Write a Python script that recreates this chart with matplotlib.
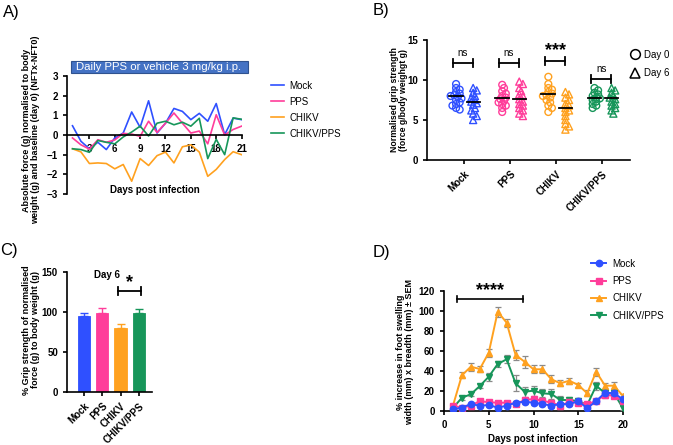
import numpy as np
import matplotlib
matplotlib.use("Agg")
import matplotlib.pyplot as plt
from matplotlib.lines import Line2D
from matplotlib.patches import Rectangle

plt.rcParams['font.family'] = ['Liberation Sans', 'DejaVu Sans']
plt.rcParams['axes.linewidth'] = 1.2
plt.rcParams['xtick.major.width'] = 1.2
plt.rcParams['ytick.major.width'] = 1.2
plt.rcParams['xtick.major.size'] = 3
plt.rcParams['ytick.major.size'] = 3

W, H = 673, 445

groups = ['Mock', 'PPS', 'CHIKV', 'CHIKV/PPS']
colors = ['#2f50ff', '#ff3d9a', '#ffa11f', '#17965a']

# ---- panel A: grip strength change over time
days_a = np.arange(1, 22)
a_mock = [0.47, -0.32, -0.7, -0.37, -0.74, -0.15, 0.1, 1.17, 0.39, 1.74, 0.1,
          0.6, 1.35, 1.2, 0.78, 1.1, 0.7, 1.6, 0.02, 0.86, 0.78]
a_pps = [-0.15, -0.5, -0.72, -0.24, -0.37, -0.25, 0.08, 0.05, -0.07, 0.7, 0.13,
         0.6, 1.12, 0.6, 0.1, 0.2, -0.45, 1.03, 0.0, 0.28, 0.45]
a_chikv = [-0.7, -0.86, -1.45, -1.42, -1.45, -1.72, -1.5, -2.35, -1.2, -1.55, -1.05,
           -0.87, -1.42, -0.6, -0.5, -0.87, -2.1, -1.75, -1.25, -0.85, -1.0]
a_chikv_pps = [-0.7, -0.74, -0.88, -0.28, -0.37, -0.45, -0.1, 0.15, 0.45, -0.05, 0.6,
               0.7, 0.52, 0.65, 0.45, 0.85, -1.2, -0.22, -1.0, 0.87, 0.8]

# ---- panel B: individual grip strength, day 0 vs day 6
b_day0 = [
    [9.5, 9.0, 8.8, 8.5, 8.3, 8.1, 8.0, 7.9, 7.7, 7.5, 7.2, 7.0, 6.8, 6.5, 6.3],
    [9.4, 9.0, 8.6, 8.3, 8.0, 7.8, 7.6, 7.4, 7.2, 7.0, 6.8, 6.5, 6.0],
    [10.4, 9.5, 9.0, 8.8, 8.5, 8.3, 8.1, 8.0, 7.8, 7.5, 7.2, 6.8, 6.5, 6.0],
    [9.0, 8.7, 8.4, 8.2, 8.0, 7.8, 7.7, 7.5, 7.3, 7.0, 6.8, 6.5],
]
b_day6 = [
    [9.0, 8.7, 8.4, 8.0, 7.8, 7.5, 7.3, 7.1, 6.9, 6.5, 6.2, 5.8, 5.5, 5.0],
    [9.8, 9.5, 9.0, 8.6, 8.2, 8.0, 7.6, 7.3, 7.0, 6.8, 6.5, 6.2, 5.8, 5.5],
    [8.5, 8.2, 7.8, 7.5, 7.0, 6.8, 6.5, 6.2, 6.0, 5.5, 5.0, 4.5, 4.2, 3.8],
    [9.0, 8.7, 8.4, 8.0, 7.8, 7.6, 7.3, 7.0, 6.8, 6.5, 6.2, 5.8],
]
b_means0 = [8.0, 7.7, 8.2, 7.7]
b_means6 = [7.3, 7.6, 6.5, 7.7]
b_sig = ['ns', 'ns', '***', 'ns']
b_sig_y = [12.1, 12.1, 12.4, 10.1]

# ---- panel C: day 6 % grip strength
c_mean = [95.5, 99.2, 80.4, 99.2]
c_sem = [3.0, 5.2, 5.0, 4.0]

# ---- panel D: foot swelling
days_d = np.arange(1, 21)
d_mock = [1.7, 3.3, 7.0, 5.3, 6.0, 3.3, 5.3, 8.3, 9.3, 8.3, 7.0, 5.3, 7.0, 6.7,
          10.0, 2.7, 10.0, 18.3, 17.7, 11.7]
d_mock_sem = [1, 1, 1.5, 1.5, 1.5, 1.5, 1.5, 2, 2, 2, 2, 2, 2, 2, 2, 1.5, 2, 2, 2, 2]
d_pps = [5.3, 3.3, 5.3, 10.0, 8.7, 8.3, 8.3, 6.7, 11.0, 12.0, 10.3, 8.3, 5.3, 9.3,
         8.3, 6.7, 10.0, 16.0, 15.3, 10.0]
d_pps_sem = [1.5, 1.5, 1.5, 2, 2, 2, 2, 2, 2.5, 2.5, 2.5, 2.5, 3, 2.5, 2.5, 2, 2, 2.5, 2.5, 2.5]
d_chikv = [5.3, 35.7, 44.3, 42.0, 58.3, 99.3, 88.3, 56.0, 49.3, 41.7, 41.7, 31.7,
           27.7, 30.3, 26.0, 17.7, 39.3, 25.3, 25.3, 15.0]
d_chikv_sem = [1.5, 3, 4, 3, 4, 5, 4, 5, 6, 4, 4, 4, 3, 3, 2, 3, 4, 3, 4, 2]
d_cp = [3.0, 13.3, 16.7, 25.0, 34.3, 47.0, 51.7, 27.7, 19.3, 20.3, 17.7, 17.0,
        11.0, 11.0, 10.0, 6.0, 25.3, 17.7, 17.7, 2.7]
d_cp_sem = [1, 2, 2, 2, 4, 3, 4, 8, 5, 5, 4, 5, 4, 3, 3, 2, 4, 3, 3, 2]


def fax(x0, y0, x1, y1):
    # axes rectangle from pixel box
    return [x0 / W, 1 - y1 / H, (x1 - x0) / W, (y1 - y0) / H]


def ftext(x, y, s, **kw):
    fig.text(x / W, 1 - y / H, s, **kw)


def swarm(vals, center, xs=46.0, ys=8.0, diam=3.6):
    # compact beeswarm offsets (in data units)
    placed = []
    out = []
    for v in vals:
        k = 0
        while True:
            step = ((k + 1) // 2) * (1 if k % 2 else -1) * 0.5
            dx = step * diam
            ok = all((dx - px) ** 2 + ((v - py) * ys) ** 2 >= diam ** 2
                     for px, py in placed)
            if ok or k > 6:
                break
            k += 1
        placed.append((dx, v))
        out.append(center + dx / xs)
    return out


fig = plt.figure(figsize=(W / 100, H / 100), dpi=100)
tick_kw = dict(labelsize=7)
bold = dict(fontweight='bold')

# ================= A
ax = fig.add_axes(fax(67, 76, 242, 194))
for vals, c, lab in zip([a_mock, a_pps, a_chikv, a_chikv_pps], colors, groups):
    ax.plot(days_a, vals, color=c, lw=1.2, label=lab)
ax.set_xlim(0.35, 21.05)
ax.set_ylim(-3, 3)
ax.spines[['top', 'right']].set_visible(False)
ax.spines['bottom'].set_position(('data', 0))
ax.set_xticks(range(3, 22, 3))
ax.set_yticks(range(-3, 4))
ax.tick_params(**tick_kw)
for t in ax.get_xticklabels() + ax.get_yticklabels():
    t.set_fontweight('bold')
ax.text(0.5, 0.03, 'Days post infection', transform=ax.transAxes, ha='center',
        va='center', fontsize=7, **bold)
fig.legend(*ax.get_legend_handles_labels(), loc='upper left',
           bbox_to_anchor=(262 / W, 1 - 72 / H), frameon=False, fontsize=7,
           handlelength=1.4, handletextpad=0.5, labelspacing=0.62)
fig.patches.append(Rectangle((71 / W, 1 - 73 / H), 177 / W, 12 / H,
                             transform=fig.transFigure, facecolor='#4472c4',
                             edgecolor='#2f528f', lw=0.8))
ftext(159, 67, 'Daily PPS or vehicle 3 mg/kg i.p.', color='white', fontsize=8.2,
      ha='center', va='center')
ftext(31, 130, 'Absolute force (g) normalised to body\nweight (g) and baseline (day 0) (NFTx-NFT0)',
      rotation=90, ha='center', va='center', fontsize=6.5, linespacing=1.1, **bold)
ftext(3, 13, 'A)', fontsize=12, va='center')

# ================= B
ax = fig.add_axes(fax(427, 40, 630, 160))
pos = np.arange(len(groups))
for i, c in enumerate(colors):
    x0 = swarm(b_day0[i], i - 0.17)
    x6 = swarm(b_day6[i], i + 0.20)
    ax.scatter(x0, b_day0[i], s=24, marker='o', facecolors='none', edgecolors=c, lw=1.0, zorder=3)
    ax.scatter(x6, b_day6[i], s=26, marker='^', facecolors='none', edgecolors=c, lw=1.0, zorder=3)
    ax.plot([i - 0.32, i - 0.03], [b_means0[i]] * 2, color='k', lw=1.3, zorder=4)
    ax.plot([i + 0.06, i + 0.35], [b_means6[i]] * 2, color='k', lw=1.3, zorder=4)
    y = b_sig_y[i]
    ax.plot([i - 0.24, i + 0.19], [y, y], color='k', lw=1.3)
    ax.plot([i - 0.24] * 2, [y - 0.5, y + 0.5], color='k', lw=1.3)
    ax.plot([i + 0.19] * 2, [y - 0.5, y + 0.5], color='k', lw=1.3)
    if b_sig[i] == 'ns':
        ax.text(i - 0.025, y + 0.7, 'ns', ha='center', va='bottom', fontsize=7)
    else:
        ax.text(i - 0.025, y + 0.2, b_sig[i], ha='center', va='bottom', fontsize=13, **bold)
ax.set_xlim(-0.8, 3.6)
ax.set_ylim(0, 15)
ax.set_yticks([0, 5, 10, 15])
ax.set_xticks(pos)
ax.set_xticklabels(groups, rotation=45, ha='right', rotation_mode='anchor', **bold)
ax.spines[['top', 'right']].set_visible(False)
ax.tick_params(**tick_kw)
for t in ax.get_yticklabels():
    t.set_fontweight('bold')
hb = [Line2D([], [], marker='o', ls='none', mfc='none', mec='k', ms=7, mew=1.1),
      Line2D([], [], marker='^', ls='none', mfc='none', mec='k', ms=7.5, mew=1.1)]
fig.legend(hb, ['Day 0', 'Day 6'], loc='upper left', bbox_to_anchor=(622 / W, 1 - 41 / H),
           frameon=False, fontsize=7, handlelength=0.8, handletextpad=0.55, labelspacing=0.9)
ftext(399, 100, 'Normalised grip strength\n(force g/body weighgt g)', rotation=90,
      ha='center', va='center', fontsize=6.3, linespacing=1.1, **bold)
ftext(373, 11, 'B)', fontsize=12, va='center')

# ================= C
ax = fig.add_axes(fax(67, 272, 152, 392))
ax.bar(pos, c_mean, width=0.68, color=colors, edgecolor=colors, lw=0.6)
for i, c in enumerate(colors):
    ax.errorbar(pos[i], c_mean[i], yerr=[[0], [c_sem[i]]], color=c, capsize=3,
                capthick=1.0, elinewidth=1.0)
ax.plot([2 - 0.12, 3 + 0.12], [126, 126], color='k', lw=1.3)
ax.plot([2 - 0.12] * 2, [121, 131], color='k', lw=1.3)
ax.plot([3 + 0.12] * 2, [121, 131], color='k', lw=1.3)
ax.text(2.5, 126, '*', ha='center', va='bottom', fontsize=13, **bold)
ax.text(1.25, 146, 'Day 6', ha='center', va='center', fontsize=7, **bold)
ax.set_xlim(-0.93, 3.72)
ax.set_ylim(0, 150)
ax.set_yticks([0, 50, 100, 150])
ax.set_xticks(pos)
ax.set_xticklabels(groups, rotation=45, ha='right', rotation_mode='anchor', **bold)
ax.spines[['top', 'right']].set_visible(False)
ax.tick_params(**tick_kw)
for t in ax.get_yticklabels():
    t.set_fontweight('bold')
ftext(31, 330, '% Grip strength of normalised\nforce (g) to body weight (g)', rotation=90,
      ha='center', va='center', fontsize=6.5, linespacing=1.1, **bold)
ftext(0, 250, 'C)', fontsize=12, va='center')

# ================= D
ax = fig.add_axes(fax(444, 291, 623, 411))
series = [(d_chikv, d_chikv_sem, colors[2], '^', 'CHIKV'),
          (d_cp, d_cp_sem, colors[3], 'v', 'CHIKV/PPS'),
          (d_pps, d_pps_sem, colors[1], 's', 'PPS'),
          (d_mock, d_mock_sem, colors[0], 'o', 'Mock')]
handles = {}
for z, (v, e, c, m, lab) in enumerate(series):
    ax.errorbar(days_d, v, yerr=e, fmt='none', ecolor='#8a8a8a', elinewidth=0.9,
                capsize=2.2, capthick=0.9, zorder=2 + z * 2)
    h, = ax.plot(days_d, v, color=c, marker=m, ms=4.6, lw=1.4, zorder=3 + z * 2, label=lab)
    handles[lab] = h
ax.plot([1.5, 8.8], [112, 112], color='k', lw=1.2)
ax.plot([1.5] * 2, [109, 115], color='k', lw=1.2)
ax.plot([8.8] * 2, [109, 115], color='k', lw=1.2)
ax.text(5.15, 111.5, '****', ha='center', va='bottom', fontsize=13, **bold)
ax.set_xlim(0, 20)
ax.set_ylim(0, 120)
ax.set_xticks([0, 5, 10, 15, 20])
ax.set_yticks(range(0, 121, 20))
ax.spines[['top', 'right']].set_visible(False)
ax.tick_params(**tick_kw)
for t in ax.get_xticklabels() + ax.get_yticklabels():
    t.set_fontweight('bold')
fig.legend([handles[g] for g in groups], groups, loc='upper left',
           bbox_to_anchor=(582 / W, 1 - 250 / H), frameon=False, fontsize=7,
           handlelength=1.6, handletextpad=0.6, labelspacing=0.75)
ftext(405, 352, '% increase in foot swelling\nwidth (mm) x breadth (mm) ± SEM', rotation=90,
      ha='center', va='center', fontsize=6.5, linespacing=1.1, **bold)
ftext(533, 439, 'Days post infection', ha='center', va='center', fontsize=7, **bold)
ftext(373, 253, 'D)', fontsize=12, va='center')

fig.savefig('out.png', dpi=100)
